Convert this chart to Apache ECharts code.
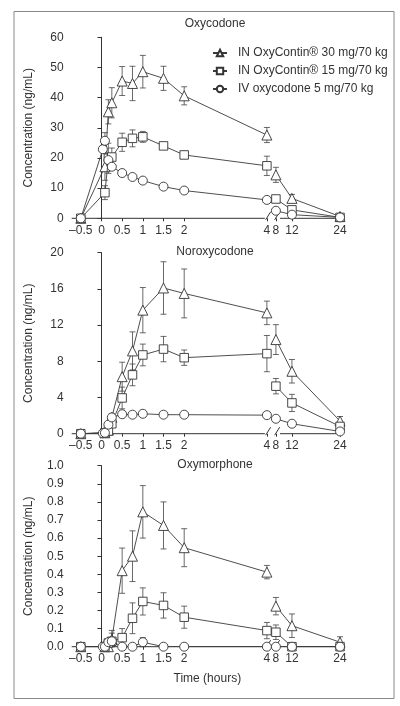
<!DOCTYPE html>
<html><head><meta charset="utf-8">
<script src="https://cdn.jsdelivr.net/npm/echarts@6/dist/echarts.min.js"></script>
<style>html,body{margin:0;padding:0;background:#fff}#c{width:400px;height:706px}</style>
</head><body><div id="c"></div><script>
const tickHours = [-0.5, 0, 0.5, 1, 1.5, 2, 4, 8, 12, 24];
const tickLabels = ['–0.5','0','0.5','1','1.5','2','4','8','12','24'];
const seriesNames = ['IN OxyContin® 30 mg/70 kg','IN OxyContin® 15 mg/70 kg','IV oxycodone 5 mg/70 kg'];
const seriesSymbols = ['triangle','rect','circle'];
const panelTitles = ['Oxycodone','Noroxycodone','Oxymorphone'];
const timesIN = [-0.5, 0.083, 0.167, 0.25, 0.5, 0.75, 1, 1.5, 2, 4, 8, 12, 24];
const timesIV = [-0.5, 0.033, 0.083, 0.167, 0.25, 0.5, 0.75, 1, 1.5, 2, 4, 8, 12, 24];

// Oxycodone (ng/mL)
const oxy30    = [0, 17.1, 35.3, 38.3, 45.5, 44.7, 48.6, 46.4, 40.6, 27.6, 14.4, 6.6, 0.6];
const oxy30Err = [0, 4.5, 4, 5, 4.8, 5.7, 5.4, 4, 3, 2.5, 2.5, 1.3, 0.3];
const oxy15    = [0, 8.5, 19.9, 20.3, 25.2, 26.5, 27, 24, 21, 17.4, 6.4, 2.8, 0.3];
const oxy15Err = [0, 2.3, 5, 3, 3, 2.8, 1.8, 0.8, 0.8, 3.2, 0.8, 0.6, 0.2];
const oxyIV    = [0, 22.9, 25.7, 19.3, 17.1, 15, 13.7, 12.5, 10.5, 9.2, 6.1, 2.5, 1.2, 0.3];
const oxyIVErr = [0, 1, 2.7, 1.5, 1, 0.8, 0.7, 0.6, 0.5, 0.5, 0.4, 0.3, 0.2, 0.1];
// Noroxycodone (ng/mL)
const nor30    = [0, 0.1, 0.4, 1.8, 6.3, 9.15, 13.65, 16.1, 15.5, 13.35, 10.4, 6.9, 1.4];
const nor30Err = [0, 0.05, 0.2, 0.4, 1.6, 2.1, 2.5, 2.9, 2.7, 1.3, 1.65, 1.3, 0.5];
const nor15    = [0, 0.1, 0.3, 1.1, 3.95, 6.5, 8.7, 9.35, 8.4, 8.85, 5.25, 3.4, 0.8];
const nor15Err = [0, 0.05, 0.1, 0.3, 1.2, 1.2, 1.2, 1.4, 0.85, 2.0, 0.85, 0.95, 0.3];
const norIV    = [0, 0.05, 0.1, 1.0, 1.8, 2.15, 2.1, 2.2, 2.1, 2.1, 2.05, 1.65, 1.1, 0.25];
const norIVErr = [0, 0, 0.02, 0.15, 0.2, 0.2, 0.15, 0.15, 0.15, 0.15, 0.15, 0.12, 0.1, 0.05];
// Oxymorphone (ng/mL)
const om30     = [0, 0, 0, 0.04, 0.42, 0.50, 0.745, 0.67, 0.547, 0.412, 0.224, 0.116, 0.025];
const om30Err  = [0, 0, 0, 0.05, 0.125, 0.14, 0.145, 0.13, 0.105, 0.037, 0.048, 0.065, 0.03];
const om15     = [0, 0, 0.02, 0.03, 0.05, 0.157, 0.25, 0.228, 0.163, 0.089, 0.08, 0, 0];
const om15Err  = [0, 0, 0.02, 0.045, 0.05, 0.085, 0.075, 0.07, 0.061, 0.045, 0.04, 0, 0];
const omIV     = [0, 0, 0, 0.025, 0.03, 0, 0, 0.025, 0, 0, 0, 0, 0, 0];
const omIVErr  = [0, 0, 0, 0.02, 0.02, 0, 0, 0.025, 0, 0, 0, 0, 0, 0];

const yMax = [60, 20, 1.0];
const yStep = [10, 4, 0.1];

const panels = [
  [[timesIN, oxy30, oxy30Err], [timesIN, oxy15, oxy15Err], [timesIV, oxyIV, oxyIVErr]],
  [[timesIN, nor30, nor30Err], [timesIN, nor15, nor15Err], [timesIV, norIV, norIVErr]],
  [[timesIN, om30, om30Err], [timesIN, om15, om15Err], [timesIV, omIV, omIVErr]]
];

// broken time scale: linear 0-4 h, compressed 8-24 h
function u(t){ return t <= 4 ? t : 4 + 0.218 + (t - 8) * 0.0969; }
const xMin = -0.72, xMax = 5.84;
const tickU = tickHours.map(u);

const INK = '#333';
const FONT = 'Liberation Sans, Arial, sans-serif';
const gridTops = [37.3, 252.7, 465.7];
const gridH = 181;

const grids = [], xAxes = [], yAxes = [], series = [], titles = [];
for (let g = 0; g < 3; g++) {
  grids.push({left: 71.7, width: 271.3, top: gridTops[g], height: gridH});
  xAxes.push({
    type: 'value', gridIndex: g, min: xMin, max: xMax,
    axisLine: {show: false},
    splitLine: {show: false},
    axisTick: {show: true, customValues: tickU, length: 3, lineStyle: {color: INK, width: 1}},
    axisLabel: {show: true, customValues: tickU, margin: 6, fontSize: 12, color: INK, fontFamily: FONT,
      formatter: v => { const i = tickU.findIndex(x => Math.abs(x - v) < 1e-6); return i >= 0 ? tickLabels[i] : ''; }},
    name: g === 2 ? 'Time (hours)' : '', nameLocation: 'middle', nameGap: 26,
    nameTextStyle: {fontSize: 12, color: INK, fontFamily: FONT}
  });
  yAxes.push({
    type: 'value', gridIndex: g, min: 0, max: yMax[g], interval: yStep[g],
    axisLine: {show: true, lineStyle: {color: INK, width: 1}},
    axisTick: {show: true, length: 4, lineStyle: {color: INK, width: 1}},
    splitLine: {show: false},
    axisLabel: {margin: 8, fontSize: 12, color: INK, fontFamily: FONT,
      formatter: v => g === 2 ? v.toFixed(1) : String(v)},
    name: 'Concentration (ng/mL)', nameLocation: 'middle', nameGap: 37,
    nameTextStyle: {fontSize: 12, color: INK, fontFamily: FONT}
  });
  titles.push({text: panelTitles[g], left: 215, top: gridTops[g] - (g === 0 ? 19.5 : 7), textAlign: 'center', padding: 0,
    textStyle: {fontSize: 12, fontWeight: 'normal', color: INK, fontFamily: FONT}});

  // x axis line with break marks
  series.push({
    type: 'custom', xAxisIndex: g, yAxisIndex: g, silent: true, z: 0, clip: false,
    data: [[0, 0]],
    renderItem: (p, api) => {
      const st = {stroke: INK, lineWidth: 1};
      const a = api.coord([xMin, 0]), b = api.coord([u(4) - 0.05, 0]);
      const c = api.coord([u(8) + 0.1, 0]), d = api.coord([xMax, 0]);
      const s1 = api.coord([u(4) + 0.03, 0]), s2 = api.coord([u(8) + 0.03, 0]);
      const slash = s => ({type: 'line', shape: {x1: s[0] - 2.5, y1: s[1] + 1.5, x2: s[0] + 2.5, y2: s[1] - 6.5}, style: st});
      return {type: 'group', children: [
        {type: 'line', shape: {x1: a[0], y1: a[1], x2: b[0], y2: b[1]}, style: st},
        {type: 'line', shape: {x1: c[0], y1: c[1], x2: d[0], y2: d[1]}, style: st},
        slash(s1), slash(s2)
      ]};
    }
  });

  panels[g].forEach((sd, k) => {
    const [times, vals, errs] = sd;
    // error bars
    series.push({
      type: 'custom', xAxisIndex: g, yAxisIndex: g, silent: true, z: 1,
      data: times.map((t, i) => [u(t), vals[i], errs[i]]).filter(d => d[2] > 0),
      renderItem: (p, api) => {
        const x = api.value(0), v = api.value(1), e = api.value(2);
        const top = api.coord([x, v + e]), bot = api.coord([x, Math.max(0, v - e)]);
        const w = 3, st = {stroke: '#444', lineWidth: 0.8};
        return {type: 'group', children: [
          {type: 'line', shape: {x1: top[0], y1: top[1], x2: bot[0], y2: bot[1]}, style: st},
          {type: 'line', shape: {x1: top[0] - w, y1: top[1], x2: top[0] + w, y2: top[1]}, style: st},
          {type: 'line', shape: {x1: bot[0] - w, y1: bot[1], x2: bot[0] + w, y2: bot[1]}, style: st}
        ]};
      }
    });
    // line with markers; break between 4 h and 8 h
    const data = [];
    times.forEach((t, i) => {
      if (t === 8) data.push([(u(4) + u(8)) / 2, '-']);
      data.push([u(t), vals[i]]);
    });
    series.push({
      type: 'line', name: seriesNames[k], xAxisIndex: g, yAxisIndex: g, z: 2 + k,
      data, connectNulls: false, symbol: seriesSymbols[k],
      symbolSize: k === 0 ? 10 : (k === 1 ? 8.5 : 9), showAllSymbol: true, animation: false,
      lineStyle: {color: '#3a3a3a', width: 0.9},
      itemStyle: {color: '#fff', borderColor: '#333', borderWidth: 0.9}
    });
  });
}

const chart = echarts.init(document.getElementById('c'), null, {renderer: 'canvas'});
chart.setOption({
  animation: false,
  backgroundColor: '#fff',
  title: titles,
  grid: grids, xAxis: xAxes, yAxis: yAxes, series,
  legend: {
    data: seriesNames.map(n => ({name: n})),
    orient: 'vertical', left: 207, top: 42, itemWidth: 14, itemHeight: 8, itemGap: 6,
    textStyle: {fontSize: 12, color: INK, fontFamily: FONT, padding: [0, 0, 0, 6]},
    selectedMode: false
  },
  graphic: [{type: 'rect', left: 11.5, top: 9, silent: true,
    shape: {width: 380, height: 687}, style: {fill: 'none', stroke: '#888', lineWidth: 1}}]
});
</script></body></html>
